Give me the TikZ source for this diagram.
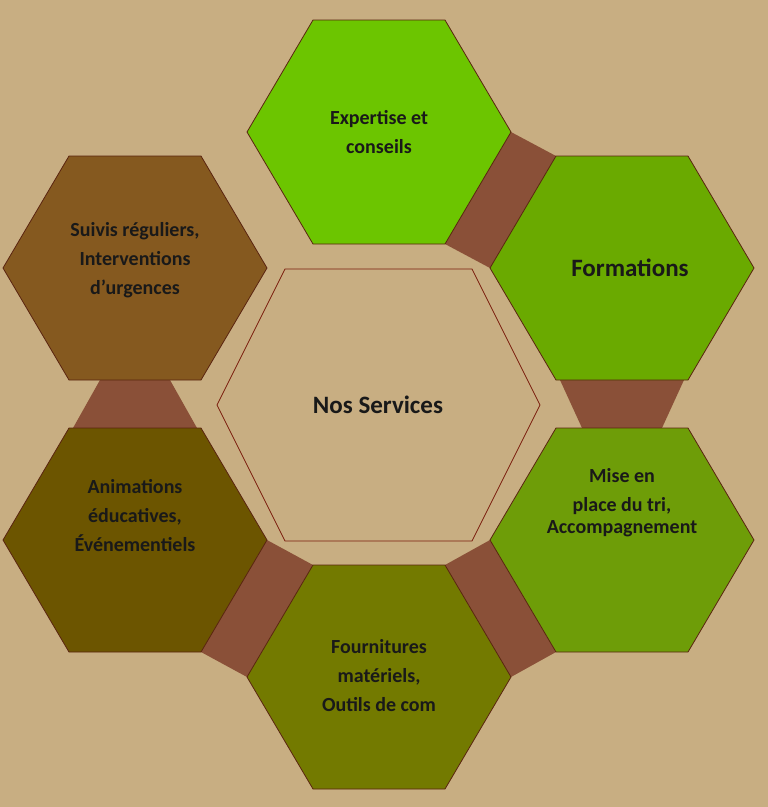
\documentclass[tikz,border=0pt]{standalone}
\usepackage{fontspec}
\setmainfont{Carlito}
\usetikzlibrary{calc}
\definecolor{fond}{HTML}{C8AE82}
\definecolor{lien}{HTML}{8A5038}
\definecolor{bord}{HTML}{5A2410}
\definecolor{vertA}{HTML}{6CC500}
\definecolor{vertB}{HTML}{6AAA00}
\definecolor{vertC}{HTML}{6E9D08}
\definecolor{olive}{HTML}{737A00}
\definecolor{brunA}{HTML}{6C5500}
\definecolor{brunB}{HTML}{85591F}
\tikzset{
	hexa/.style={draw=bord, line width=0.8pt},
	texte/.style={align=center, font=\fontsize{20}{29}\selectfont\bfseries, text=black!90},
	lienbande/.style={fill=lien, draw=none}
}
% hexagone : nom, x, y, couleur
\newcommand{\hexagone}[4]{
	\draw[hexa, fill=#4] (#2-132,#3) -- (#2-66,#3-112) -- (#2+66,#3-112)
		-- (#2+132,#3) -- (#2+66,#3+112) -- (#2-66,#3+112) -- cycle;
	\coordinate (#1) at (#2,#3);
}
\begin{document}
\begin{tikzpicture}[x=1pt, y=-1pt]
	\fill[fond] (0,0) rectangle (768,807);
	\useasboundingbox (0,0) rectangle (768,807);
	% centres
	\coordinate (exp) at (379,132);
	\coordinate (form) at (622,268);
	\coordinate (mise) at (622,540);
	\coordinate (four) at (379,677);
	\coordinate (anim) at (135,540);
	\coordinate (suiv) at (135,268);
	% bandes de liaison
	\fill[lienbande] ($(exp)+(132,0)$) -- ($(exp)+(66,112)$) -- ($(form)+(-132,0)$) -- ($(form)+(-66,-112)$) -- cycle;
	\fill[lienbande] ($(form)+(-62,112)$) -- ($(form)+(62,112)$) -- ($(mise)+(40,-112)$) -- ($(mise)+(-40,-112)$) -- cycle;
	\fill[lienbande] ($(mise)+(-132,0)$) -- ($(mise)+(-66,112)$) -- ($(four)+(132,0)$) -- ($(four)+(66,-112)$) -- cycle;
	\fill[lienbande] ($(four)+(-66,-112)$) -- ($(four)+(-132,0)$) -- ($(anim)+(66,112)$) -- ($(anim)+(132,0)$) -- cycle;
	\fill[lienbande] ($(suiv)+(-35,112)$) -- ($(suiv)+(35,112)$) -- ($(anim)+(62,-112)$) -- ($(anim)+(-62,-112)$) -- cycle;
	% hexagones
	\hexagone{h1}{379}{132}{vertA}
	\hexagone{h2}{622}{268}{vertB}
	\hexagone{h3}{622}{540}{vertC}
	\hexagone{h4}{379}{677}{olive}
	\hexagone{h5}{135}{540}{brunA}
	\hexagone{h6}{135}{268}{brunB}
	\draw[hexa, draw=bord!80!red, fill=fond] (217,405) -- (285,269) -- (472,269) -- (540,405) -- (472,541) -- (285,541) -- cycle;
	% textes
	\node[texte] (t0) at (378,405) {\fontsize{25}{30}\selectfont Nos Services};
	\node[texte] (t1) at (exp) {Expertise et\\conseils};
	\node[texte] (t2) at (630,268) {\fontsize{25}{30}\selectfont Formations};
	\node[texte] (t3) at (622,492) {Mise en\\place du tri,};
	\node[texte] (t3b) at (622,529) {Accompagnement};
	\node[texte] (t4) at (379,676) {Fournitures\\matériels,\\Outils de com};
	\node[texte] (t5) at (135,516) {Animations\\éducatives,\\Événementiels};
	\node[texte] (t6) at (135,260) {Suivis réguliers,\\Interventions\\d’urgences};
\end{tikzpicture}
\end{document}
